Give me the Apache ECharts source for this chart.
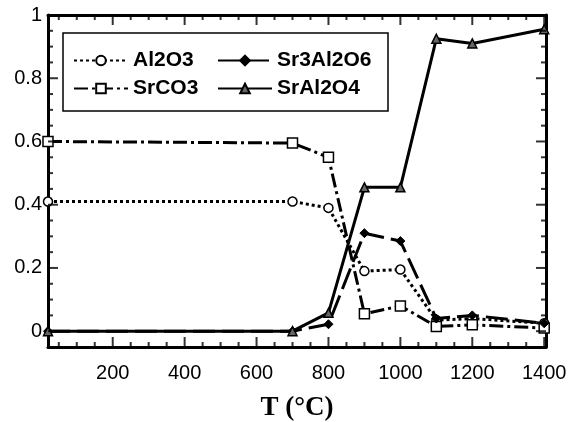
<!DOCTYPE html>
<html>
<head>
<meta charset="utf-8">
<script src="https://cdn.jsdelivr.net/npm/echarts@6/dist/echarts.min.js"></script>
<style>
html,body{margin:0;padding:0;background:#fff;}
#c{width:570px;height:422px;}
</style>
</head>
<body>
<div id="c"></div>
<script>
// ---- data ----
const temps = [20, 700, 800, 900, 1000, 1100, 1200, 1400];
const al2o3 = [0.41, 0.41, 0.39, 0.19, 0.195, 0.035, 0.04, 0.025];
const srco3 = [0.6, 0.595, 0.55, 0.055, 0.08, 0.015, 0.02, 0.01];
const sr3al2o6 = [0, 0, 0.022, 0.31, 0.285, 0.04, 0.05, 0.025];
const sral2o4 = [0, 0, 0.058, 0.455, 0.455, 0.925, 0.91, 0.955];
const seriesNames = ['Al2O3', 'SrCO3', 'Sr3Al2O6', 'SrAl2O4'];
// tick values
const xMajorTicks = [200, 400, 600, 800, 1000, 1200, 1400];
const xMinorTicks = [50,100,150,250,300,350,450,500,550,650,700,750,850,900,950,1050,1100,1150,1250,1300,1350];
const yMajorTicks = [0, 0.2, 0.4, 0.6, 0.8];
const yMinorTicks = [0.05,0.1,0.15,0.25,0.3,0.35,0.45,0.5,0.55,0.65,0.7,0.75,0.85,0.9,0.95];
const xMajorSplit = 7, yMajorSplit = 5;

const X_MIN = 20, X_MAX = 1405, Y_MIN = -0.05, Y_MAX = 1;
const FONT = "'Liberation Sans', Arial, sans-serif";
const MAJOR_LEN = 10, MINOR_LEN = 5;

const pair = (vals) => temps.map((t, i) => [t, vals[i]]);

function baseAx(position, min, max, split, label) {
  return {
    type: 'value', position, min, max, splitNumber: split,
    axisLine: { show: true, onZero: false, lineStyle: { color: '#000', width: 3 } },
    axisTick: { show: false },
    axisLabel: label || { show: false },
    splitLine: { show: false }
  };
}

const xMain = baseAx('bottom', X_MIN, X_MAX, xMajorSplit, {
  show: true, fontSize: 20, fontFamily: FONT, color: '#000', margin: 16,
  showMinLabel: false, showMaxLabel: false, interval: 0,
  formatter: (v) => String(Math.round(v))
});
xMain.name = 'T (°C)';
xMain.nameLocation = 'middle';
xMain.nameGap = 48;
xMain.nameTextStyle = { fontFamily: "'Liberation Serif', 'Times New Roman', serif", fontWeight: 'bold', fontSize: 27, color: '#000' };

const yMain = baseAx('left', Y_MIN, Y_MAX, yMajorSplit, {
  show: true, fontSize: 20, fontFamily: FONT, color: '#000', margin: 6,
  showMinLabel: false, showMaxLabel: true, interval: 0,
  formatter: (v) => String(+v.toFixed(2))
});

// inward tick marks drawn through the axes' scales
function tickSeries(values, side, len) {
  const vertical = side === 'bottom' || side === 'top';
  const data = values.map(v => {
    if (side === 'bottom') return [v, Y_MIN];
    if (side === 'top') return [v, Y_MAX];
    if (side === 'left') return [X_MIN, v];
    return [X_MAX, v];
  });
  const off = { bottom: [0, -len / 2], top: [0, len / 2], left: [len / 2, 0], right: [-len / 2, 0] }[side];
  return {
    type: 'scatter', silent: true, clip: false, z: 5,
    data,
    symbol: 'rect',
    symbolSize: vertical ? [2, len] : [len, 2],
    symbolOffset: off,
    itemStyle: { color: '#000' },
    emphasis: { disabled: true },
    tooltip: { show: false }
  };
}

const legendText = { fontSize: 21, fontWeight: 'bold', fontFamily: FONT, color: '#000' };
function leg(name, left, top) {
  return { data: [name], left, top, padding: 0, itemWidth: 54, itemHeight: 12, itemGap: 0, textStyle: legendText, selectedMode: false };
}

const option = {
  animation: false,
  backgroundColor: '#fff',
  grid: { left: 48, right: 24, top: 15, bottom: 75, containLabel: false, outerBoundsMode: 'none' },
  xAxis: [ xMain, baseAx('top', X_MIN, X_MAX, xMajorSplit, null) ],
  yAxis: [ yMain, baseAx('right', Y_MIN, Y_MAX, yMajorSplit, null) ],
  legend: [
    leg('Al2O3', 73, 50),
    leg('Sr3Al2O6', 217, 50),
    leg('SrCO3', 73, 78),
    leg('SrAl2O4', 217, 78)
  ],
  graphic: [{
    type: 'rect', z: 1,
    shape: { x: 63, y: 33, width: 325, height: 78 },
    style: { fill: 'none', stroke: '#000', lineWidth: 1.5 }
  }],
  series: [
    {
      name: seriesNames[0], type: 'line', data: pair(al2o3),
      symbol: 'circle', symbolSize: 9,
      lineStyle: { color: '#000', width: 3, type: [3, 3] },
      itemStyle: { color: '#fff', borderColor: '#000', borderWidth: 1.5 }
    },
    {
      name: seriesNames[1], type: 'line', data: pair(srco3),
      symbol: 'rect', symbolSize: 10,
      lineStyle: { color: '#000', width: 3, type: [14, 4, 3, 4] },
      itemStyle: { color: '#fff', borderColor: '#000', borderWidth: 1.5 }
    },
    {
      name: seriesNames[2], type: 'line', data: pair(sr3al2o6),
      symbol: 'diamond', symbolSize: 9,
      lineStyle: { color: '#000', width: 3, type: [22, 7] },
      itemStyle: { color: '#000', borderColor: '#000', borderWidth: 1 }
    },
    {
      name: seriesNames[3], type: 'line', data: pair(sral2o4),
      symbol: 'triangle', symbolSize: 9,
      lineStyle: { color: '#000', width: 3, type: 'solid' },
      itemStyle: { color: '#666', borderColor: '#000', borderWidth: 1.5 }
    },
    tickSeries(xMajorTicks, 'bottom', MAJOR_LEN),
    tickSeries(xMinorTicks, 'bottom', MINOR_LEN),
    tickSeries(xMajorTicks, 'top', MAJOR_LEN),
    tickSeries(xMinorTicks, 'top', MINOR_LEN),
    tickSeries(yMajorTicks, 'left', MAJOR_LEN),
    tickSeries(yMinorTicks, 'left', MINOR_LEN),
    tickSeries(yMajorTicks, 'right', MAJOR_LEN),
    tickSeries(yMinorTicks, 'right', MINOR_LEN)
  ]
};

const chart = echarts.init(document.getElementById('c'), null, { renderer: 'canvas' });
chart.setOption(option);
</script>
</body>
</html>
